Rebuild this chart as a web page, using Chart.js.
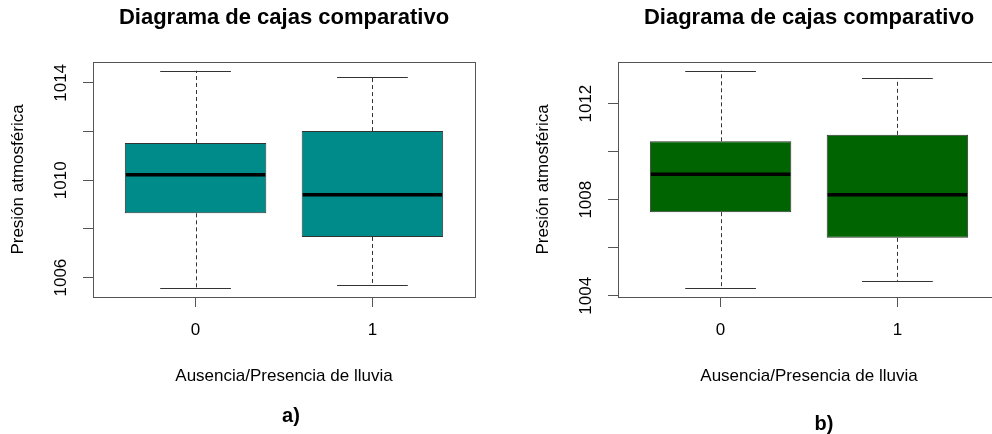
<!DOCTYPE html>
<html>
<head>
<meta charset="utf-8">
<script src="https://cdn.jsdelivr.net/npm/chart.js@4.4.0/dist/chart.umd.min.js"></script>
<style>
  html, body { margin: 0; padding: 0; width: 992px; height: 434px; overflow: hidden; background: #fff; }
  .panel { position: absolute; top: 0; width: 500px; height: 434px; }
  .tag { position: absolute; font: bold 20px "Liberation Sans", Arial, sans-serif; color: #000;
         transform: translate(-50%, -50%); line-height: 1; }
</style>
</head>
<body>
<div class="panel" style="left:0"><canvas id="chartA" width="500" height="434"></canvas></div>
<div class="panel" style="left:525px"><canvas id="chartB" width="500" height="434"></canvas></div>
<div class="tag" style="left:291px;top:415px">a)</div>
<div class="tag" style="left:824px;top:423px">b)</div>
<script>
// Categories (x positions 1, 2 as in R's boxplot)
const groups = ['0', '1'];
const positions = [1, 2];

// Panel a) five-number summaries
const minA = [1005.56, 1005.71];
const q1A = [1008.64, 1007.67];
const medA = [1010.23, 1009.40];
const q3A = [1011.53, 1012.02];
const maxA = [1014.50, 1014.25];
const ticksA = [1006, 1008, 1010, 1012, 1014];
const tickLabelsA = ['1006', '', '1010', '', '1014'];

// Panel b) five-number summaries
const minB = [1004.31, 1004.62];
const q1B = [1007.48, 1006.41];
const medB = [1009.06, 1008.21];
const q3B = [1010.43, 1010.70];
const maxB = [1013.37, 1013.07];
const ticksB = [1004, 1006, 1008, 1010, 1012];
const tickLabelsB = ['1004', '', '1008', '', '1012'];

const FONT = '"Liberation Sans", Arial, sans-serif';

// whiskers, caps and medians drawn through the chart scales
const boxLines = {
  id: 'boxLines',
  afterDatasetsDraw(chart, args, opts) {
    const { ctx, scales: { x, y } } = chart;
    ctx.save();
    positions.forEach((p, i) => {
      const cx = Math.round(x.getPixelForValue(p)) + 0.5;
      const capL = x.getPixelForValue(p - 0.2);
      const capR = x.getPixelForValue(p + 0.2);
      const boxL = x.getPixelForValue(p - 0.4);
      const boxR = x.getPixelForValue(p + 0.4);
      const yMin = y.getPixelForValue(opts.mins[i]);
      const yQ1 = y.getPixelForValue(opts.q1[i]);
      const yMed = y.getPixelForValue(opts.med[i]);
      const yQ3 = y.getPixelForValue(opts.q3[i]);
      const yMax = y.getPixelForValue(opts.maxs[i]);

      ctx.strokeStyle = '#333';
      ctx.lineWidth = 1;
      ctx.setLineDash([4, 3]);
      ctx.beginPath();
      ctx.moveTo(cx, yQ3); ctx.lineTo(cx, yMax);
      ctx.moveTo(cx, yQ1); ctx.lineTo(cx, yMin);
      ctx.stroke();

      ctx.setLineDash([]);
      ctx.beginPath();
      ctx.moveTo(capL, Math.round(yMax) + 0.5); ctx.lineTo(capR, Math.round(yMax) + 0.5);
      ctx.moveTo(capL, Math.round(yMin) + 0.5); ctx.lineTo(capR, Math.round(yMin) + 0.5);
      ctx.stroke();

      ctx.strokeStyle = '#000';
      ctx.lineWidth = 3.5;
      ctx.beginPath();
      ctx.moveTo(boxL + 1, yMed); ctx.lineTo(boxR - 1, yMed);
      ctx.stroke();
    });
    ctx.restore();
  },
  afterDraw(chart) {
    const { ctx, chartArea: a } = chart;
    ctx.save();
    ctx.strokeStyle = '#555';
    ctx.lineWidth = 1;
    ctx.strokeRect(a.left + 0.5, a.top + 0.5, a.right - a.left, a.bottom - a.top);
    ctx.restore();
  }
};

function makeBoxChart(id, color, mins, q1, med, q3, maxs, ticks, tickLabels) {
  const lo = Math.min(...mins), hi = Math.max(...maxs);
  const pad = (hi - lo) * 0.04;
  new Chart(document.getElementById(id), {
    type: 'bar',
    data: {
      datasets: [{
        data: positions.map((p, i) => ({ x: p, y: [q1[i], q3[i]] })),
        backgroundColor: color,
        borderColor: '#333',
        borderWidth: 1,
        borderSkipped: false,
        barPercentage: 0.8,
        categoryPercentage: 1
      }]
    },
    options: {
      responsive: false,
      animation: false,
      layout: { padding: { left: 0, right: 25, top: 0, bottom: 0 } },
      plugins: {
        legend: { display: false },
        tooltip: { enabled: false },
        title: {
          display: true,
          text: 'Diagrama de cajas comparativo',
          fullSize: false,
          color: '#000',
          font: { family: FONT, size: 22, weight: 'bold' },
          padding: { top: 5, bottom: 30.6 }
        },
        boxLines: { mins, q1, med, q3, maxs }
      },
      scales: {
        x: {
          type: 'linear',
          offset: false,
          min: 0.5 - 0.08,
          max: 2.5 + 0.08,
          afterBuildTicks: s => { s.ticks = positions.map(v => ({ value: v })); },
          afterFit: s => { s.height = 137; },
          ticks: {
            color: '#000',
            font: { family: FONT, size: 17 },
            padding: 13,
            callback: v => groups[positions.indexOf(v)]
          },
          grid: { display: true, offset: false, drawOnChartArea: false, drawTicks: true, tickLength: 10, color: '#555' },
          border: { display: false },
          title: {
            display: true,
            text: 'Ausencia/Presencia de lluvia',
            color: '#000',
            font: { family: FONT, size: 17 },
            padding: { top: 0, bottom: 47.8 }
          }
        },
        y: {
          type: 'linear',
          min: lo - pad,
          max: hi + pad,
          afterBuildTicks: s => { s.ticks = ticks.map(v => ({ value: v })); },
          afterFit: s => { s.width = 93; },
          ticks: {
            color: '#000',
            font: { family: FONT, size: 17 },
            autoSkip: false,
            minRotation: 90,
            maxRotation: 90,
            crossAlign: 'center',
            padding: 2.6,
            callback: (v, i) => tickLabels[i]
          },
          grid: { display: true, drawOnChartArea: false, drawTicks: true, tickLength: 10, color: '#555' },
          border: { display: false },
          title: {
            display: true,
            text: 'Presión atmosférica',
            color: '#000',
            font: { family: FONT, size: 17 },
            padding: { top: 7.8, bottom: 0 }
          }
        }
      }
    },
    plugins: [boxLines]
  });
}

makeBoxChart('chartA', '#008B8B', minA, q1A, medA, q3A, maxA, ticksA, tickLabelsA);
makeBoxChart('chartB', '#006400', minB, q1B, medB, q3B, maxB, ticksB, tickLabelsB);
</script>
</body>
</html>
